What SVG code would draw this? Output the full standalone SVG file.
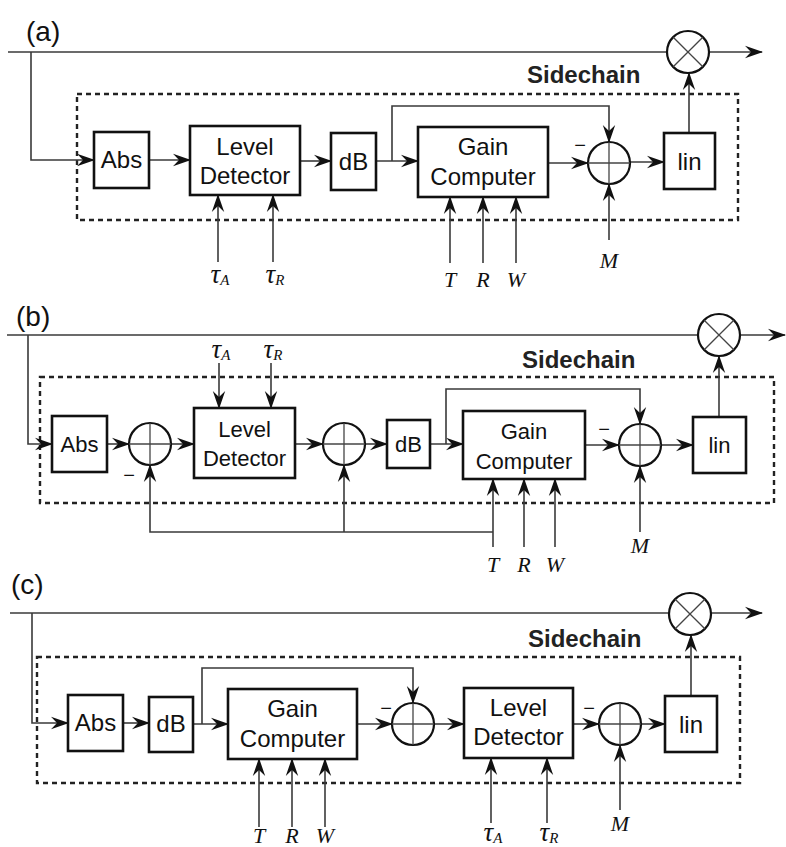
<svg xmlns="http://www.w3.org/2000/svg" width="786" height="847" viewBox="0 0 786 847">
<defs>
<marker id="ah" markerUnits="userSpaceOnUse" markerWidth="18" markerHeight="14" viewBox="0 0 18 14" refX="17" refY="7" orient="auto">
<path d="M0,0.8 L18,7 L0,13.2 L6,7 Z" fill="#111"/>
</marker>
<style>
.ln{fill:none;stroke:#3a3a3a;stroke-width:1.6}
.ar{fill:none;stroke:#3a3a3a;stroke-width:1.6;marker-end:url(#ah)}
.bx{fill:#fff;stroke:#111;stroke-width:2.6}
.cir{fill:#fff;stroke:#111;stroke-width:2.2}
.cr{stroke:#444;stroke-width:1.3}
.dot{fill:none;stroke:#222;stroke-width:2.4;stroke-dasharray:5 4}
.t{font-family:"Liberation Sans",Arial,sans-serif;font-size:24px;fill:#111;text-anchor:middle}
.tb{font-family:"Liberation Sans",Arial,sans-serif;font-size:22px;fill:#111;text-anchor:middle}
.sc{font-family:"Liberation Sans",Arial,sans-serif;font-size:24px;font-weight:bold;fill:#222}
.pl{font-family:"Liberation Sans",Arial,sans-serif;font-size:28px;fill:#111}
.it{font-family:"Liberation Serif","Times New Roman",serif;font-style:italic;font-size:22px;fill:#111;text-anchor:middle}
.tau{font-family:"Liberation Serif","Times New Roman",serif;font-style:italic;font-size:27px;fill:#111;text-anchor:middle}
.mn{font-family:"Liberation Sans",Arial,sans-serif;font-size:20px;fill:#111;text-anchor:middle}
</style>
</defs>

<!-- ================= Panel (a) ================= -->
<g id="panel-a">
<text class="pl" x="26" y="41">(a)</text>
<rect class="dot" x="77" y="94" width="661" height="126"/>
<text class="sc" x="527" y="83">Sidechain</text>
<g id="a-connectors">
<path class="ln" d="M8,52 H667"/>
<path class="ar" d="M710,52 H762"/>
<path class="ar" d="M31,52 V160 H94"/>
<path class="ar" d="M149,160 H190"/>
<path class="ar" d="M300,161 H331"/>
<path class="ar" d="M376,161 H418"/>
<path class="ar" d="M392,161 V106 H609 V142"/>
<path class="ar" d="M548,163 H588"/>
<path class="ar" d="M630,162 H664"/>
<path class="ar" d="M689,133 V73"/>
<path class="ar" d="M218,262 V195"/>
<path class="ar" d="M273,262 V195"/>
<path class="ar" d="M450,263 V197"/>
<path class="ar" d="M483,263 V197"/>
<path class="ar" d="M516,263 V197"/>
<path class="ar" d="M609,240 V184"/>
</g>
<g id="a-abs"><rect class="bx" x="94" y="132" width="55" height="56"/><text class="t" x="121.5" y="168">Abs</text></g>
<g id="a-level"><rect class="bx" x="190" y="126" width="110" height="69"/><text class="t" x="245" y="155">Level</text><text class="t" x="245" y="184">Detector</text></g>
<g id="a-db"><rect class="bx" x="331" y="133" width="45" height="57"/><text class="t" x="353.5" y="170">dB</text></g>
<g id="a-gain"><rect class="bx" x="418" y="127" width="130" height="70"/><text class="t" x="483" y="155">Gain</text><text class="t" x="483" y="185">Computer</text></g>
<g id="a-sum"><circle class="cir" cx="609" cy="163" r="21"/><line class="cr" x1="588" y1="163" x2="630" y2="163"/><line class="cr" x1="609" y1="142" x2="609" y2="184"/><text class="mn" x="580" y="152">−</text></g>
<g id="a-lin"><rect class="bx" x="664" y="133" width="51" height="56"/><text class="t" x="689.5" y="170">lin</text></g>
<g id="a-mult"><circle class="cir" cx="688" cy="52" r="21"/><line class="cr" x1="673.2" y1="37.2" x2="702.8" y2="66.8"/><line class="cr" x1="673.2" y1="66.8" x2="702.8" y2="37.2"/></g>
<g id="a-labels">
<text class="tau" x="220" y="283">τ<tspan font-size="15" dy="2">A</tspan></text>
<text class="tau" x="275" y="283">τ<tspan font-size="15" dy="2">R</tspan></text>
<text class="it" x="450" y="287">T</text>
<text class="it" x="483" y="287">R</text>
<text class="it" x="516" y="287">W</text>
<text class="it" x="609" y="268">M</text>
</g>
</g>

<!-- ================= Panel (b) ================= -->
<g id="panel-b">
<text class="pl" x="16" y="326">(b)</text>
<rect class="dot" x="40" y="377" width="734" height="126"/>
<text class="sc" x="522" y="368">Sidechain</text>
<g id="b-connectors">
<path class="ln" d="M7,335 H698"/>
<path class="ar" d="M740,335 H785"/>
<path class="ar" d="M28,335 V444 H52"/>
<path class="ar" d="M107,444 H129"/>
<path class="ar" d="M171,444 H194"/>
<path class="ar" d="M295,444 H323"/>
<path class="ar" d="M365,444 H387"/>
<path class="ar" d="M430,444 H463"/>
<path class="ar" d="M446,444 V389 H640 V424"/>
<path class="ar" d="M585,445 H619"/>
<path class="ar" d="M661,445 H693"/>
<path class="ar" d="M719,417 V356"/>
<path class="ar" d="M219,363 V408"/>
<path class="ar" d="M271,363 V408"/>
<path class="ar" d="M493,547 V479"/>
<path class="ar" d="M524,547 V479"/>
<path class="ar" d="M555,547 V479"/>
<path class="ar" d="M493,532 H150 V465"/>
<path class="ar" d="M344,532 V465"/>
<path class="ar" d="M640,532 V466"/>
</g>
<g id="b-abs"><rect class="bx" x="52" y="416" width="55" height="56"/><text class="tb" x="79.5" y="452">Abs</text></g>
<g id="b-sum1"><circle class="cir" cx="150" cy="444" r="21"/><line class="cr" x1="129" y1="444" x2="171" y2="444"/><line class="cr" x1="150" y1="423" x2="150" y2="465"/><text class="mn" x="129" y="482">−</text></g>
<g id="b-level"><rect class="bx" x="194" y="408" width="101" height="70"/><text class="tb" x="244.5" y="437">Level</text><text class="tb" x="244.5" y="466">Detector</text></g>
<g id="b-sum2"><circle class="cir" cx="344" cy="444" r="21"/><line class="cr" x1="323" y1="444" x2="365" y2="444"/><line class="cr" x1="344" y1="423" x2="344" y2="465"/></g>
<g id="b-db"><rect class="bx" x="387" y="420" width="43" height="48"/><text class="tb" x="408.5" y="452">dB</text></g>
<g id="b-gain"><rect class="bx" x="463" y="411" width="122" height="68"/><text class="tb" x="524" y="439">Gain</text><text class="tb" x="524" y="469">Computer</text></g>
<g id="b-sum3"><circle class="cir" cx="640" cy="445" r="21"/><line class="cr" x1="619" y1="445" x2="661" y2="445"/><line class="cr" x1="640" y1="424" x2="640" y2="466"/><text class="mn" x="604" y="436">−</text></g>
<g id="b-lin"><rect class="bx" x="693" y="417" width="53" height="56"/><text class="tb" x="719.5" y="453">lin</text></g>
<g id="b-mult"><circle class="cir" cx="719" cy="335" r="21"/><line class="cr" x1="704.2" y1="320.2" x2="733.8" y2="349.8"/><line class="cr" x1="704.2" y1="349.8" x2="733.8" y2="320.2"/></g>
<g id="b-labels">
<text class="tau" x="221" y="358">τ<tspan font-size="15" dy="2">A</tspan></text>
<text class="tau" x="273" y="358">τ<tspan font-size="15" dy="2">R</tspan></text>
<text class="it" x="493" y="572">T</text>
<text class="it" x="524" y="572">R</text>
<text class="it" x="555" y="572">W</text>
<text class="it" x="640" y="553">M</text>
</g>
</g>

<!-- ================= Panel (c) ================= -->
<g id="panel-c">
<text class="pl" x="11" y="594">(c)</text>
<rect class="dot" x="37" y="657" width="703" height="126"/>
<text class="sc" x="528" y="647">Sidechain</text>
<g id="c-connectors">
<path class="ln" d="M10,613 H669"/>
<path class="ar" d="M711,613 H762"/>
<path class="ar" d="M32,613 V723 H68"/>
<path class="ar" d="M123,723 H149"/>
<path class="ar" d="M193,724 H228"/>
<path class="ar" d="M202,724 V668 H413 V703"/>
<path class="ar" d="M357,724 H392"/>
<path class="ar" d="M434,724 H464"/>
<path class="ar" d="M573,724 H599"/>
<path class="ar" d="M641,724 H665"/>
<path class="ar" d="M691,696 V635"/>
<path class="ar" d="M259,827 V759"/>
<path class="ar" d="M292,827 V759"/>
<path class="ar" d="M325,827 V759"/>
<path class="ar" d="M491,823 V758"/>
<path class="ar" d="M547,823 V758"/>
<path class="ar" d="M620,810 V745"/>
</g>
<g id="c-abs"><rect class="bx" x="68" y="695" width="55" height="56"/><text class="t" x="95.5" y="731">Abs</text></g>
<g id="c-db"><rect class="bx" x="149" y="697" width="44" height="55"/><text class="t" x="171" y="732">dB</text></g>
<g id="c-gain"><rect class="bx" x="228" y="689" width="129" height="70"/><text class="t" x="292.5" y="717">Gain</text><text class="t" x="292.5" y="747">Computer</text></g>
<g id="c-sum1"><circle class="cir" cx="413" cy="724" r="21"/><line class="cr" x1="392" y1="724" x2="434" y2="724"/><line class="cr" x1="413" y1="703" x2="413" y2="745"/><text class="mn" x="386" y="715">−</text></g>
<g id="c-level"><rect class="bx" x="464" y="688" width="109" height="70"/><text class="t" x="518.5" y="716">Level</text><text class="t" x="518.5" y="745">Detector</text></g>
<g id="c-sum2"><circle class="cir" cx="620" cy="724" r="21"/><line class="cr" x1="599" y1="724" x2="641" y2="724"/><line class="cr" x1="620" y1="703" x2="620" y2="745"/><text class="mn" x="589" y="715">−</text></g>
<g id="c-lin"><rect class="bx" x="665" y="696" width="52" height="56"/><text class="t" x="691" y="733">lin</text></g>
<g id="c-mult"><circle class="cir" cx="690" cy="614" r="21"/><line class="cr" x1="675.2" y1="599.2" x2="704.8" y2="628.8"/><line class="cr" x1="675.2" y1="628.8" x2="704.8" y2="599.2"/></g>
<g id="c-labels">
<text class="it" x="259" y="843">T</text>
<text class="it" x="292" y="843">R</text>
<text class="it" x="325" y="843">W</text>
<text class="tau" x="493" y="841">τ<tspan font-size="15" dy="2">A</tspan></text>
<text class="tau" x="549" y="841">τ<tspan font-size="15" dy="2">R</tspan></text>
<text class="it" x="620" y="831">M</text>
</g>
</g>
</svg>
